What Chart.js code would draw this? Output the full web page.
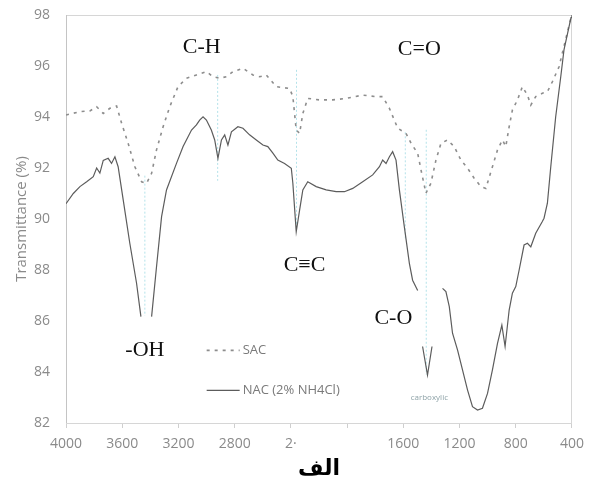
<!DOCTYPE html>
<html>
<head>
<meta charset="utf-8">
<script src="https://cdn.jsdelivr.net/npm/chart.js@4/dist/chart.umd.min.js"></script>
<style>
  html, body { margin: 0; padding: 0; background: #fff; }
  #wrap { width: 592px; height: 482px; }
</style>
</head>
<body>
<div id="wrap"><canvas id="ftir" width="592" height="482"></canvas></div>
<script>
// Spectrum data (wavenumber cm-1 / transmittance %)
const nacWavenumber = [4000, 3948, 3901, 3853, 3806, 3782, 3759, 3735, 3700, 3676, 3652, 3629, 3593, 3546, 3498, 3467,
  3440, 3391, 3356, 3320, 3285, 3214, 3167, 3107, 3072, 3049, 3025, 3001, 2966, 2942, 2919, 2894, 2871, 2848, 2823,
  2777, 2741, 2694, 2646, 2599, 2564, 2528, 2493, 2445, 2397, 2386, 2362, 2338, 2315, 2280, 2220, 2149, 2078, 2019,
  1960, 1889, 1818, 1770, 1747, 1723, 1699, 1676, 1652, 1628, 1593, 1557, 1534, 1498,
  1490, 1463, 1428, 1396,
  1390, 1321, 1297, 1273, 1250, 1214, 1179, 1143, 1108, 1072, 1037, 1001, 966, 930, 899, 876, 847, 824, 800, 776,
  741, 717, 693, 658, 611, 599, 575, 551, 516, 480, 457, 407, 400];
const nacTransmittance = [90.6, 91.0, 91.27, 91.46, 91.66, 92.0, 91.8, 92.3, 92.38, 92.18, 92.44, 92.05, 90.75, 89.05, 87.48, 86.17,
  null, 86.17, 88.13, 90.09, 91.14, 92.18, 92.84, 93.49, 93.69, 93.88, 94.01, 93.88, 93.49, 93.1, 92.38, 93.1, 93.3, 92.9, 93.42,
  93.62, 93.56, 93.3, 93.1, 92.9, 92.84, 92.58, 92.31, 92.18, 91.99, 91.4, 89.5, 90.35, 91.14, 91.46, 91.27, 91.14, 91.07, 91.07,
  91.2, 91.46, 91.73, 92.05, 92.31, 92.18, 92.44, 92.64, 92.31, 91.14, 89.7, 88.26, 87.6, 87.2,
  null, 85.0, 83.88, 85.0,
  null, 87.28, 87.15, 86.56, 85.52, 84.86, 84.08, 83.29, 82.64, 82.51, 82.58, 83.16, 84.08, 85.12, 85.84, 85.0, 86.43, 87.09, 87.35, 88.0,
  88.98, 89.05, 88.91, 89.44, 89.9, 90.03, 90.62, 92.05, 94.01, 95.58, 96.63, 97.9, 98.0];

const sacWavenumber = [4000, 3901, 3830, 3782, 3735, 3688, 3640, 3604, 3558, 3510, 3462, 3427, 3391, 3356, 3309, 3262,
  3203, 3143, 3072, 3001, 2954, 2907, 2859, 2812, 2741, 2670, 2622, 2575, 2504, 2409, 2386, 2362, 2338, 2315, 2280,
  2196, 2102, 2007, 1889, 1794, 1747, 1699, 1664, 1640, 1581, 1545, 1498, 1474, 1439, 1404, 1368, 1332, 1285, 1238,
  1190, 1143, 1096, 1048, 1013, 966, 930, 895, 871, 847, 824, 788, 753, 717, 693, 658, 611, 575, 540, 492, 469, 407];
const sacTransmittance = [94.08, 94.21, 94.24, 94.4, 94.14, 94.34, 94.43, 93.75, 92.97, 92.05, 91.46, 91.4, 91.79, 92.71, 93.62, 94.4,
  95.19, 95.52, 95.65, 95.78, 95.58, 95.52, 95.58, 95.78, 95.91, 95.65, 95.58, 95.65, 95.19, 95.12, 94.8, 93.49, 93.36, 94.14, 94.73,
  94.67, 94.67, 94.73, 94.86, 94.8, 94.8, 94.34, 93.88, 93.56, 93.36, 92.97, 92.58, 91.92, 91.01, 91.4, 92.31, 92.97, 93.1, 92.84,
  92.31, 91.99, 91.6, 91.27, 91.2, 92.05, 92.71, 93.1, 92.84, 93.62, 94.27, 94.67, 95.19, 94.86, 94.47, 94.8, 94.93, 94.99, 95.38, 95.97, 96.5, 97.9];

// Dotted marker lines at the band positions
const bandWavenumber = [3439, 2921, 2360, 1586, 1437];
const bandTop = [91.7, 95.65, 95.85, 93.4, 93.5];
const bandBottom = [86.2, 91.5, 89.6, 89.2, 83.9];

// Band labels (text, wavenumber, transmittance)
const bandLabels = ['C-H', 'C=O', 'C\u2261C', 'C-O', '-OH'];
const bandLabelWn = [3034, 1486, 2303, 1671, 3439];
const bandLabelT = [96.75, 96.67, 88.2, 86.12, 84.86];

const xTickValues = [4000, 3600, 3200, 2800, 2400, 2000, 1600, 1200, 800, 400];
const xTickLabels = ['4000', '3600', '3200', '2800', '2\u00b7', '', '1600', '1200', '800', '400'];
const seriesNames = ['SAC', 'NAC (2% NH4Cl)'];

const toPoints = (xs, ys) => xs.map((x, i) => ({ x: x, y: ys[i] }));

const datasets = [
  {
    label: seriesNames[0],
    data: toPoints(sacWavenumber, sacTransmittance),
    borderColor: '#8d8d8d',
    borderWidth: 1.6,
    borderDash: [3, 5],
    pointRadius: 0,
    tension: 0,
    order: 2
  },
  {
    label: seriesNames[1],
    data: toPoints(nacWavenumber, nacTransmittance),
    borderColor: '#5c5c5c',
    borderWidth: 1.2,
    pointRadius: 0,
    spanGaps: false,
    tension: 0,
    order: 1
  }
];
bandWavenumber.forEach((wn, i) => {
  datasets.push({
    label: 'band' + i,
    data: [{ x: wn, y: bandTop[i] }, { x: wn, y: bandBottom[i] }],
    borderColor: '#b4e2ea',
    borderWidth: 1,
    borderDash: [2, 2],
    pointRadius: 0,
    order: 3
  });
});

// frame, band labels, legend and the small "carboxylic" note
const decorations = {
  id: 'decorations',
  beforeDatasetsDraw(chart) {
    const { ctx, chartArea: a } = chart;
    ctx.save();
    ctx.strokeStyle = '#d6d6d6';
    ctx.lineWidth = 1;
    ctx.strokeRect(a.left + 0.5, a.top + 0.5, a.right - a.left - 1, a.bottom - a.top);
    ctx.strokeStyle = '#c4c4c4';
    ctx.beginPath();
    ctx.moveTo(a.left + 0.5, a.top);
    ctx.lineTo(a.left + 0.5, a.bottom);
    ctx.stroke();
    ctx.restore();
  },
  afterDatasetsDraw(chart) {
    const { ctx, chartArea: a, scales: { x, y } } = chart;
    ctx.save();
    ctx.fillStyle = '#111';
    ctx.font = '22px "Liberation Serif", "DejaVu Serif", serif';
    ctx.textAlign = 'center';
    ctx.textBaseline = 'middle';
    bandLabels.forEach((t, i) => {
      ctx.fillText(t, x.getPixelForValue(bandLabelWn[i]), y.getPixelForValue(bandLabelT[i]));
    });

    ctx.font = '8px "Open Sans", sans-serif';
    ctx.fillStyle = '#8fa3a8';
    ctx.fillText('carboxylic', x.getPixelForValue(1415), y.getPixelForValue(82.98));

    // legend inside the plot
    const w = a.right - a.left, h = a.bottom - a.top;
    const lx = a.left + w * 0.278;
    const rows = [a.top + h * 0.822, a.top + h * 0.92];
    ctx.font = '13px "Open Sans", sans-serif';
    ctx.fillStyle = '#7a7a7a';
    ctx.textAlign = 'left';
    datasets.slice(0, 2).forEach((ds, i) => {
      ctx.strokeStyle = ds.borderColor;
      ctx.lineWidth = ds.borderWidth;
      ctx.setLineDash(ds.borderDash || []);
      ctx.beginPath();
      ctx.moveTo(lx, rows[i]);
      ctx.lineTo(lx + 33, rows[i]);
      ctx.stroke();
      ctx.setLineDash([]);
      ctx.fillText(ds.label, lx + 36, rows[i]);
    });
    ctx.restore();
  }
};

new Chart(document.getElementById('ftir'), {
  type: 'line',
  data: { datasets: datasets },
  options: {
    responsive: false,
    animation: false,
    layout: { padding: { top: 15, right: 19, bottom: 0, left: 0 } },
    plugins: {
      legend: { display: false },
      tooltip: { enabled: false }
    },
    scales: {
      x: {
        type: 'linear',
        reverse: true,
        min: 400,
        max: 4000,
        afterBuildTicks: s => { s.ticks = xTickValues.map(v => ({ value: v })); },
        afterFit: s => { s.height = 59; },
        ticks: {
          maxRotation: 0,
          autoSkip: false,
          padding: 8,
          color: '#8a8a8a',
          font: { family: '"Open Sans", sans-serif', size: 14 },
          callback: v => xTickLabels[xTickValues.indexOf(v)]
        },
        grid: { drawOnChartArea: false, tickLength: 5, color: '#cfcfcf' },
        border: { display: false },
        title: {
          display: true,
          text: 'الف',
          color: '#000',
          padding: { top: 0, bottom: 0 },
          font: { family: '"DejaVu Sans", sans-serif', size: 22, weight: 'bold' }
        }
      },
      y: {
        min: 82,
        max: 98,
        afterFit: s => { s.width = 66; },
        ticks: {
          stepSize: 2,
          padding: 2,
          color: '#8a8a8a',
          font: { family: '"Open Sans", sans-serif', size: 14 }
        },
        // invisible tick marks only push the labels away from the frame
        grid: { drawOnChartArea: false, tickLength: 14, color: 'rgba(0,0,0,0)' },
        border: { display: false },
        title: {
          display: true,
          text: 'Transmittance (%)',
          color: '#8a8a8a',
          padding: { top: 13, bottom: 0 },
          font: { family: '"Open Sans", sans-serif', size: 15 }
        }
      }
    }
  },
  plugins: [decorations]
});
</script>
</body>
</html>
